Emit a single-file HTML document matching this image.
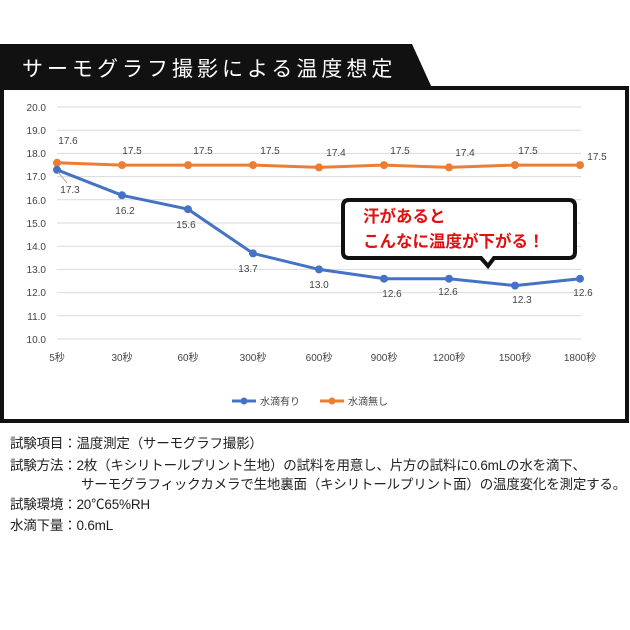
<!DOCTYPE html>
<html><head><meta charset="utf-8"><style>
body{margin:0;width:630px;height:630px;background:#fff;overflow:hidden;font-family:"Liberation Sans","Noto Sans CJK JP",sans-serif}
.t{position:absolute;left:10px;font-size:13.5px;color:#222;white-space:nowrap;letter-spacing:-0.2px}
</style></head><body>
<svg width="630" height="630" style="position:absolute;left:0;top:0" font-family="Liberation Sans, Noto Sans CJK JP, sans-serif">
<polygon points="0,44 412,44 432,88 0,88" fill="#111"/>
<text x="22" y="76" fill="#fff" font-size="21" letter-spacing="4">サーモグラフ撮影による温度想定</text>
<rect x="2" y="88" width="625" height="333" fill="#fff" stroke="#111" stroke-width="4"/>
<g stroke="#d9d9d9" stroke-width="1">
<line x1="57" x2="581" y1="107" y2="107"/><line x1="57" x2="581" y1="130.2" y2="130.2"/><line x1="57" x2="581" y1="153.4" y2="153.4"/><line x1="57" x2="581" y1="176.6" y2="176.6"/><line x1="57" x2="581" y1="199.8" y2="199.8"/><line x1="57" x2="581" y1="223" y2="223"/><line x1="57" x2="581" y1="246.2" y2="246.2"/><line x1="57" x2="581" y1="269.4" y2="269.4"/><line x1="57" x2="581" y1="292.6" y2="292.6"/><line x1="57" x2="581" y1="315.8" y2="315.8"/><line x1="57" x2="581" y1="339" y2="339"/>
</g>
<g font-size="10" fill="#444" text-anchor="end">
<text x="46" y="111">20.0</text><text x="46" y="134">19.0</text><text x="46" y="157">18.0</text><text x="46" y="180">17.0</text><text x="46" y="204">16.0</text><text x="46" y="227">15.0</text><text x="46" y="250">14.0</text><text x="46" y="273">13.0</text><text x="46" y="296">12.0</text><text x="46" y="320">11.0</text><text x="46" y="343">10.0</text>
</g>
<g font-size="10" fill="#444" text-anchor="middle">
<text x="57" y="361">5秒</text><text x="122" y="361">30秒</text><text x="188" y="361">60秒</text><text x="253" y="361">300秒</text><text x="319" y="361">600秒</text><text x="384" y="361">900秒</text><text x="449" y="361">1200秒</text><text x="515" y="361">1500秒</text><text x="580" y="361">1800秒</text>
</g>
<polyline fill="none" stroke="#ed7d31" stroke-width="3" points="57,162.8 122,165.1 188,165.1 253,165.1 319,167.4 384,165.1 449,167.4 515,165.1 580,165.1"/>
<g fill="#ed7d31"><circle cx="57" cy="162.8" r="4"/><circle cx="122" cy="165.1" r="4"/><circle cx="188" cy="165.1" r="4"/><circle cx="253" cy="165.1" r="4"/><circle cx="319" cy="167.4" r="4"/><circle cx="384" cy="165.1" r="4"/><circle cx="449" cy="167.4" r="4"/><circle cx="515" cy="165.1" r="4"/><circle cx="580" cy="165.1" r="4"/></g>
<polyline fill="none" stroke="#4472c4" stroke-width="3" points="57,169.8 122,195.3 188,209.2 253,253.4 319,269.4 384,278.7 449,278.7 515,285.6 580,278.7"/>
<g fill="#4472c4"><circle cx="57" cy="169.8" r="4"/><circle cx="122" cy="195.3" r="4"/><circle cx="188" cy="209.2" r="4"/><circle cx="253" cy="253.4" r="4"/><circle cx="319" cy="269.4" r="4"/><circle cx="384" cy="278.7" r="4"/><circle cx="449" cy="278.7" r="4"/><circle cx="515" cy="285.6" r="4"/><circle cx="580" cy="278.7" r="4"/></g>
<g font-size="10" fill="#444" text-anchor="middle">
<text x="68" y="144">17.6</text><text x="132" y="154">17.5</text><text x="203" y="154">17.5</text><text x="270" y="154">17.5</text><text x="336" y="156">17.4</text><text x="400" y="154">17.5</text><text x="465" y="156">17.4</text><text x="528" y="154">17.5</text><text x="597" y="160">17.5</text>
<text x="70" y="193">17.3</text><text x="125" y="214">16.2</text><text x="186" y="228">15.6</text><text x="248" y="272">13.7</text><text x="319" y="288">13.0</text><text x="392" y="297">12.6</text><text x="448" y="295">12.6</text><text x="522" y="303">12.3</text><text x="583" y="296">12.6</text>
</g>
<line x1="58" y1="172" x2="67" y2="183" stroke="#999" stroke-width="0.8"/>
<path d="M349,200 H569 Q575,200 575,206 V252 Q575,258 569,258 H494 L488,266 L481,258 H349 Q343,258 343,252 V206 Q343,200 349,200 Z" fill="#fff" stroke="#111" stroke-width="4"/>
<text x="363" y="222" font-size="16.5" font-weight="bold" fill="#e01010">汗があると</text>
<text x="363" y="247" font-size="16.5" font-weight="bold" fill="#e01010">こんなに温度が下がる！</text>
<line x1="232" y1="401" x2="256" y2="401" stroke="#4472c4" stroke-width="3"/><circle cx="244" cy="401" r="3.5" fill="#4472c4"/>
<text x="260" y="405" font-size="10" fill="#444">水滴有り</text>
<line x1="320" y1="401" x2="344" y2="401" stroke="#ed7d31" stroke-width="3"/><circle cx="332" cy="401" r="3.5" fill="#ed7d31"/>
<text x="348" y="405" font-size="10" fill="#444">水滴無し</text>
</svg>
<div class="t" style="top:432px">試験項目：温度測定（サーモグラフ撮影）</div>
<div class="t" style="top:454px">試験方法：2枚（キシリトールプリント生地）の試料を用意し、片方の試料に0.6mLの水を滴下、</div>
<div class="t" style="top:473px;left:81px">サーモグラフィックカメラで生地裏面（キシリトールプリント面）の温度変化を測定する。</div>
<div class="t" style="top:493px">試験環境：20℃65%RH</div>
<div class="t" style="top:514px">水滴下量：0.6mL</div>
</body></html>
